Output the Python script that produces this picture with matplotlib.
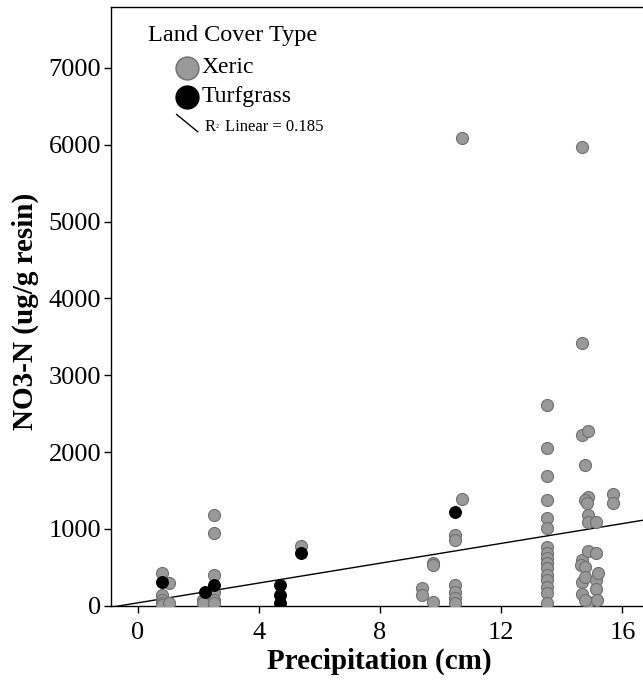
import matplotlib
matplotlib.use('Agg')
import matplotlib.pyplot as plt
from matplotlib.lines import Line2D

plt.rcParams['font.family'] = ['Liberation Serif', 'DejaVu Serif']

# Xeric sites: precipitation (cm) and NO3-N (ug/g resin)
xeric_precip = [0.79, 0.79, 0.79, 0.79, 0.79, 1.03, 1.03,
                2.17, 2.17, 2.52, 2.52, 2.52, 2.52, 2.52, 2.52,
                5.39,
                9.37, 9.37, 9.76, 9.76, 9.76,
                10.49, 10.49, 10.49, 10.49, 10.49, 10.49, 10.69, 10.69,
                13.5, 13.5, 13.5, 13.5, 13.5, 13.5, 13.5, 13.5,
                13.5, 13.5, 13.5, 13.5, 13.5, 13.5, 13.5, 13.5,
                14.67, 14.67, 14.67, 14.67, 14.67, 14.67, 14.65,
                14.87, 14.87, 14.87, 14.87, 14.87, 14.87,
                14.77, 14.77, 14.77, 14.77, 14.77, 14.84,
                15.13, 15.13, 15.13, 15.13, 15.2, 15.17,
                15.68, 15.68]
xeric_no3 = [422, 139, 74, 35, 15, 300, 35,
             74, 30, 1181, 951, 400, 183, 74, 31,
             777,
             227, 139, 560, 530, 52,
             920, 855, 270, 183, 96, 31, 6094, 1385,
             2613, 2057, 1685, 1376, 1146, 1008, 768, 682,
             617, 552, 487, 400, 335, 247, 161, 39,
             5969, 3417, 2223, 595, 305, 148, 530,
             2279, 1411, 1181, 1094, 716, 52,
             1828, 1376, 508, 378, 74, 1333,
             1094, 690, 335, 213, 430, 74,
             1450, 1333]

# Turfgrass sites
turf_precip = [0.79, 2.22, 2.52, 4.70, 4.70, 4.70, 5.39, 10.49]
turf_no3 = [313, 183, 270, 270, 139, 31, 682, 1224]

# linear fit shown in the legend (R2 = 0.185)
fit_slope = 64.5
fit_intercept = 37.0
r2_text = 'Linear = 0.185'

x_ticks = [0, 4, 8, 12, 16]
y_ticks = [0, 1000, 2000, 3000, 4000, 5000, 6000, 7000]

fig = plt.figure(figsize=(6.43, 6.86), dpi=100)
ax = fig.add_axes([111 / 643, (686 - 605.7) / 686, 532 / 643, 598.4 / 686])

ax.scatter(xeric_precip, xeric_no3, s=75, facecolor='#999999', edgecolor='#6f6f6f',
           linewidths=0.8, zorder=3)
ax.scatter(turf_precip, turf_no3, s=72, facecolor='black', edgecolor='black',
           linewidths=0.8, zorder=4)

ax.set_xlim(-0.88, 16.68)
ax.set_ylim(0, 7790)
xl = ax.get_xlim()
ax.plot(list(xl), [fit_intercept + fit_slope * v for v in xl], color='black', lw=1.0, zorder=2)

ax.set_xticks(x_ticks)
ax.set_yticks(y_ticks)
ax.tick_params(direction='out', length=5, width=1, labelsize=19)
ax.tick_params(axis='y', pad=2)
ax.tick_params(axis='x', pad=7)
ax.spines['right'].set_visible(False)
for s in ['left', 'bottom', 'top']:
    ax.spines[s].set_linewidth(1.0)

ax.set_xlabel('Precipitation (cm)', fontsize=21, fontweight='bold', va='center')
ax.xaxis.set_label_coords(0.5047, -0.0935)
ax.set_ylabel('NO3-N (ug/g resin)', fontsize=21, fontweight='bold', va='center')
ax.yaxis.set_label_coords(-0.1617, 0.4925)

# legend, drawn by hand to follow the original layout
ax.text(0.0695, 0.9537, 'Land Cover Type', transform=ax.transAxes, fontsize=17.5,
        ha='left', va='center')
ax.add_line(Line2D([0.1429], [0.8991], transform=ax.transAxes, marker='o', markersize=16.5,
                   markerfacecolor='#999999', markeredgecolor='#6f6f6f', linestyle='none'))
ax.text(0.1705, 0.8991, 'Xeric', transform=ax.transAxes, fontsize=17, ha='left', va='center')
ax.add_line(Line2D([0.1429], [0.8506], transform=ax.transAxes, marker='o', markersize=16.5,
                   markerfacecolor='black', markeredgecolor='black', linestyle='none'))
ax.text(0.1705, 0.8506, 'Turfgrass', transform=ax.transAxes, fontsize=17, ha='left', va='center')
ax.add_line(Line2D([0.1235, 0.1630], [0.8208, 0.7921], transform=ax.transAxes,
                   color='black', lw=1.0))
ax.text(0.1767, 0.8005, 'R', transform=ax.transAxes, fontsize=12, ha='left', va='center')
ax.text(0.1962, 0.8005, '2', transform=ax.transAxes, fontsize=4.5, ha='left', va='center')
ax.text(0.2143, 0.8005, r2_text, transform=ax.transAxes, fontsize=12, ha='left', va='center')

fig.savefig('out.png', dpi=100)
